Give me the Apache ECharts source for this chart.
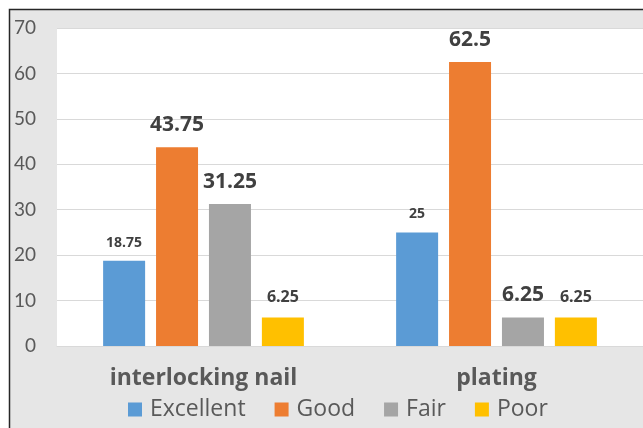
<!DOCTYPE html>
<html>
<head>
<meta charset="utf-8">
<script src="https://cdn.jsdelivr.net/npm/echarts@6/dist/echarts.min.js"></script>
<style>
html,body{margin:0;padding:0;background:#fff;}
#c{width:643px;height:428px;}
</style>
</head>
<body>
<div id="c"></div>
<script>
const categories = ['interlocking nail', 'plating'];
const seriesNames = ['Excellent', 'Good', 'Fair', 'Poor'];
const excellent = [18.75, 25];
const good = [43.75, 62.5];
const fair = [31.25, 6.25];
const poor = [6.25, 6.25];
const yTicks = [0, 10, 20, 30, 40, 50, 60, 70];

const seriesValues = [excellent, good, fair, poor];
const colors = ['#5b9bd5', '#ed7d31', '#a5a5a5', '#ffc000'];
// label font sizes per series / category (styling only)
const labelSizes = [[14, 14], [21, 21], [21, 21], [16, 16]];
const FONT = 'Lato, "Open Sans", sans-serif';
const WFONT = '"Open Sans", Lato, sans-serif';

const chart = echarts.init(document.getElementById('c'), null, {renderer: 'canvas'});

const series = seriesNames.map((name, i) => ({
  name: name,
  type: 'bar',
  barWidth: 42,
  barGap: '26%',
  itemStyle: {color: colors[i]},
  data: seriesValues[i].map((v, j) => ({
    value: v,
    label: {fontSize: labelSizes[i][j], distance: labelSizes[i][j] > 15 ? 12 : 11}
  })),
  label: {
    show: true,
    position: 'top',
    color: '#404040',
    fontWeight: 'bold',
    fontFamily: WFONT
  }
}));

chart.setOption({
  backgroundColor: '#fff',
  animation: false,
  textStyle: {fontFamily: FONT},
  graphic: [{
    type: 'rect',
    z: -100,
    silent: true,
    shape: {x: 9.5, y: 9.5, width: 700, height: 500},
    style: {fill: '#e6e6e6', stroke: '#262626', lineWidth: 1.5}
  }],
  grid: {
    left: 57, top: 28, width: 588, bottom: 82,
    show: true, backgroundColor: '#ffffff', borderWidth: 0,
    containLabel: false
  },
  legend: {
    data: seriesNames,
    top: 393,
    left: 123,
    icon: 'rect',
    itemWidth: 14,
    itemHeight: 14,
    itemGap: 29,
    textStyle: {fontSize: 23, color: '#595959', fontFamily: WFONT, padding: [0, 0, 0, 3]}
  },
  xAxis: {
    type: 'category',
    data: categories,
    axisTick: {show: false},
    axisLine: {lineStyle: {color: '#d9d9d9'}},
    axisLabel: {
      fontSize: 23, fontWeight: 'bold', color: '#595959', margin: 21, fontFamily: WFONT
    }
  },
  yAxis: {
    type: 'value',
    min: yTicks[0],
    max: yTicks[yTicks.length - 1],
    interval: 10,
    axisLine: {show: false},
    axisTick: {show: false},
    splitLine: {lineStyle: {color: '#d9d9d9', width: 1}},
    axisLabel: {fontSize: 19, color: '#595959', margin: 21, fontFamily: FONT}
  },
  series: series
});
</script>
</body>
</html>
